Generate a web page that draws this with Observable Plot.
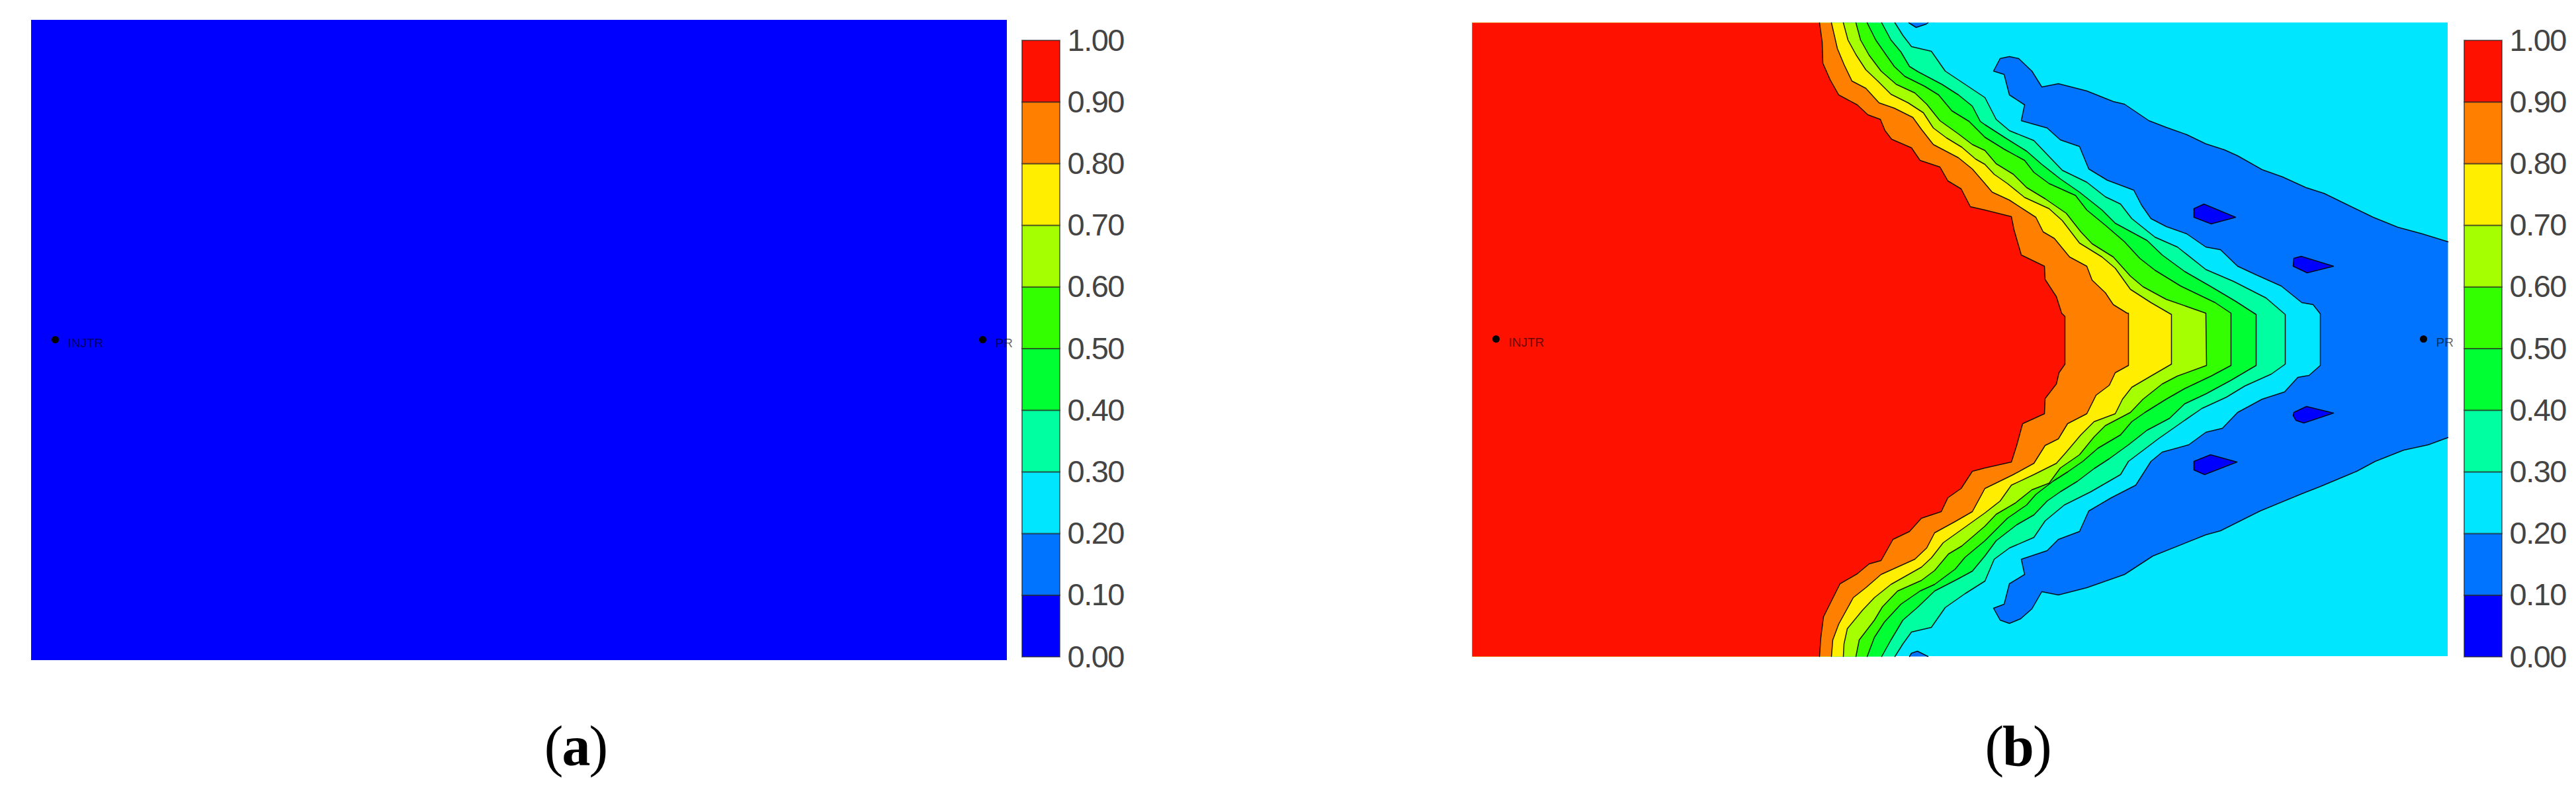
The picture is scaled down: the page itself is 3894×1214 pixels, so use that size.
<!DOCTYPE html>
<html>
<head>
<meta charset="utf-8">
<script src="https://cdn.jsdelivr.net/npm/d3@7"></script>
<script src="https://cdn.jsdelivr.net/npm/@observablehq/plot@0.6"></script>
<style>
html,body{margin:0;padding:0;background:#fff;width:3894px;height:1214px;overflow:hidden}
.box{position:absolute}
.box svg{max-width:none;display:block}
.cap{position:absolute;font-family:"Liberation Serif",serif;font-size:86px;letter-spacing:-2px;line-height:100px;color:#000;transform:translateX(-50%)}
</style>
</head>
<body>
<script>
// Field extent of each map
const fieldX = [0, 1475];
const fieldY = [0, 958];

// Legend
const levels = [0, 0.1, 0.2, 0.3, 0.4, 0.5, 0.6, 0.7, 0.8, 0.9, 1];
const breaks = [0.1, 0.2, 0.3, 0.4, 0.5, 0.6, 0.7, 0.8, 0.9];
const bandColors = ["#0000ff","#0073ff","#00e6ff","#00ffa0","#00ff33","#33ff00","#a6ff00","#ffee00","#ff8000","#ff1100"];

// Wells
const wellNames = ["INJTR", "PR"];
const wellX = [36, 1438];
const wellY = [478, 478];

// Iso-lines of map (b)
const contour90 = [[525,0],[529,29],[530,61],[541,86],[554,109],[582,124],[598,139],[617,146],[624,163],[634,176],[664,189],[677,208],[707,218],[719,239],[739,251],[753,278],[775,283],[815,293],[819,313],[830,351],[865,368],[866,388],[883,414],[891,439],[896,444],[896,516],[887,529],[883,546],[866,568],[865,591],[832,606],[823,639],[815,664],[775,673],[756,678],[739,704],[719,718],[709,739],[679,749],[661,769],[636,781],[618,813],[600,818],[582,833],[556,848],[531,898],[527,929],[525,958]];
const contour80 = [[543,0],[552,39],[562,63],[574,88],[595,99],[615,121],[638,129],[666,143],[679,161],[697,184],[735,204],[756,221],[775,243],[786,256],[812,268],[852,294],[863,316],[880,326],[903,354],[929,368],[937,389],[957,408],[969,426],[990,439],[992,439],[992,518],[972,529],[963,548],[943,563],[929,591],[900,606],[886,629],[866,639],[849,666],[818,683],[775,704],[756,739],[730,754],[699,771],[687,794],[669,811],[618,834],[595,854],[576,869],[554,909],[545,933],[543,958]];
const contour70 = [[561,0],[568,26],[580,48],[595,71],[613,88],[633,108],[659,121],[682,136],[697,159],[717,174],[740,188],[761,206],[775,214],[789,229],[809,243],[835,264],[872,281],[892,299],[918,333],[952,354],[972,371],[995,403],[1026,423],[1057,441],[1057,516],[1026,534],[997,551],[983,569],[972,591],[940,603],[920,623],[898,649],[883,666],[849,683],[815,699],[798,723],[775,741],[740,766],[712,786],[694,809],[679,823],[633,849],[608,869],[590,888],[567,916],[562,939],[561,958]];
const contour60 = [[580,0],[587,26],[600,49],[618,73],[641,93],[669,106],[687,123],[707,148],[735,168],[756,184],[775,193],[792,213],[818,229],[838,249],[866,266],[898,288],[920,316],[937,334],[969,354],[995,383],[1014,399],[1049,418],[1109,439],[1110,518],[1066,534],[1043,546],[1014,569],[995,589],[957,609],[940,626],[918,653],[889,673],[872,696],[846,706],[821,726],[792,743],[775,761],[740,791],[720,803],[699,828],[679,843],[643,859],[620,883],[608,903],[585,933],[580,958]];
const contour50 = [[597,0],[610,26],[626,49],[638,66],[654,81],[684,96],[705,109],[725,133],[751,149],[775,173],[804,191],[835,208],[849,226],[872,243],[912,261],[929,283],[957,306],[986,331],[1009,356],[1032,374],[1071,398],[1123,423],[1147,439],[1147,518],[1117,534],[1077,553],[1049,569],[1017,589],[997,603],[980,623],[946,643],[923,663],[900,679],[878,693],[852,713],[838,729],[809,749],[775,783],[745,808],[730,826],[699,849],[677,859],[648,879],[623,906],[608,929],[597,958]];
const contour40 = [[619,0],[633,26],[648,44],[661,66],[674,74],[710,93],[735,109],[756,126],[768,149],[775,154],[806,174],[838,194],[861,214],[889,236],[918,256],[952,283],[972,303],[1020,329],[1043,351],[1077,376],[1117,399],[1154,421],[1185,441],[1185,518],[1146,541],[1109,561],[1077,576],[1054,598],[1020,616],[992,638],[963,659],[940,674],[915,693],[889,709],[869,723],[849,744],[823,759],[792,783],[775,806],[756,829],[730,843],[699,859],[674,883],[651,903],[633,933],[619,958]];
const contour30 = [[639,0],[651,19],[664,36],[694,43],[715,73],[745,93],[775,113],[792,146],[812,163],[849,178],[869,199],[892,223],[929,241],[957,263],[980,274],[997,296],[1032,324],[1066,339],[1109,373],[1151,391],[1200,416],[1229,441],[1229,516],[1208,531],[1168,549],[1140,566],[1103,583],[1074,603],[1037,629],[992,663],[980,683],[935,709],[895,729],[866,753],[849,778],[812,794],[789,811],[775,844],[745,863],[715,884],[694,914],[664,921],[651,939],[639,958]];
const contour20 = [[1475,331],[1436,319],[1399,309],[1362,294],[1331,279],[1288,258],[1260,249],[1225,233],[1194,222],[1157,201],[1137,192],[1109,183],[1080,169],[1049,158],[1023,148],[986,123],[969,119],[929,103],[886,92],[861,97],[846,73],[826,54],[812,51],[798,54],[788,73],[804,78],[812,109],[835,124],[830,148],[869,159],[889,177],[918,187],[932,221],[960,238],[1000,253],[1012,276],[1026,296],[1049,308],[1080,319],[1109,339],[1131,343],[1157,368],[1185,381],[1223,398],[1254,423],[1271,426],[1282,440],[1282,518],[1265,533],[1248,536],[1228,558],[1194,569],[1157,589],[1134,613],[1109,619],[1083,638],[1043,649],[1026,663],[1003,699],[966,718],[932,738],[918,769],[886,781],[869,798],[830,811],[835,834],[812,848],[804,879],[788,885],[798,903],[812,908],[829,901],[846,886],[861,860],[886,865],[929,854],[986,834],[1029,806],[1109,774],[1131,768],[1191,738],[1254,712],[1282,701],[1337,678],[1365,663],[1408,646],[1445,638],[1475,627]];
const patchTop = [[660,0],[671,7],[686,2],[689,0]];
const patchBottom = [[661,958],[664,953],[673,950],[687,957],[689,958]];
const island1 = [[1091,281],[1106,274],[1154,294],[1117,304],[1091,294],[1091,281]];
const island2 = [[1242,356],[1253,353],[1302,368],[1262,378],[1241,368],[1242,356]];
const island3 = [[1242,589],[1261,580],[1302,590],[1257,605],[1245,601],[1241,594],[1242,589]];
const island4 = [[1091,663],[1116,653],[1156,664],[1107,683],[1091,676],[1091,663]];

const colorScale = {type: "threshold", domain: breaks, range: bandColors};
const rows = (pts, band) => pts.map(([x, y]) => ({x, y, band}));
const field = band => [{x1: fieldX[0], x2: fieldX[1], y1: fieldY[0], y2: fieldY[1], band}];
const fillOf = (pts, band) => Plot.line(rows(pts, band), {x: "x", y: "y", fill: "band", stroke: "none"});
const lineOf = pts => Plot.line(rows(pts, 0), {x: "x", y: "y", stroke: "#000", strokeWidth: 1.5, strokeOpacity: 0.9});
const west = [[fieldX[0], fieldY[1]], [fieldX[0], fieldY[0]]];

function wells() {
  const data = wellNames.map((name, i) => ({name, x: wellX[i], y: wellY[i]}));
  return [
    Plot.dot(data, {x: "x", y: "y", r: 5.5, fill: "#000", stroke: "none"}),
    Plot.text(data, {x: "x", y: "y", text: "name", dx: 19, dy: 5, textAnchor: "start", fill: "#000", fillOpacity: 0.6,
      fontSize: 19, fontFamily: "Liberation Sans"})
  ];
}

function map(height, marks) {
  return Plot.plot({
    width: fieldX[1], height, margin: 0,
    x: {domain: fieldX, axis: null},
    y: {domain: [fieldY[1], fieldY[0]], axis: null},
    color: colorScale,
    style: {overflow: "visible", background: "transparent"},
    marks: [...marks, ...wells()]
  });
}

function legend() {
  const cells = bandColors.map((c, i) => ({y1: levels[i], y2: levels[i + 1], band: (levels[i] + levels[i + 1]) / 2}));
  return Plot.plot({
    width: 340, height: 1012, marginTop: 40, marginBottom: 40, marginLeft: 0, marginRight: 283,
    x: {domain: [0, 1], axis: null},
    y: {domain: [0, 1]},
    color: colorScale,
    style: {overflow: "visible", background: "transparent", fontFamily: "Liberation Sans", fontSize: "47px", letterSpacing: "-1.5px", color: "#444"},
    marks: [
      Plot.rect(cells, {x1: 0, x2: 1, y1: "y1", y2: "y2", fill: "band", stroke: "#222", strokeOpacity: 0.6, strokeWidth: 2}),
      Plot.axisY({anchor: "right", ticks: levels, tickSize: 0, tickPadding: 11, tickFormat: d3.format(".2f"), fill: "#444", label: null})
    ]
  });
}

const isoStack = [[contour30, 0.35], [contour40, 0.45], [contour50, 0.55], [contour60, 0.65], [contour70, 0.75], [contour80, 0.85], [contour90, 0.95]];
const islands = [island1, island2, island3, island4];

const mapA = map(968, [Plot.rect(field(0.05), {x1: "x1", x2: "x2", y1: "y1", y2: "y2", fill: "band"})]);
const mapB = map(958, [
  Plot.rect(field(0.25), {x1: "x1", x2: "x2", y1: "y1", y2: "y2", fill: "band"}),
  fillOf(contour20, 0.15),
  fillOf(patchTop, 0.15),
  fillOf(patchBottom, 0.15),
  ...isoStack.map(([pts, band]) => fillOf([...pts, ...west], band)),
  ...islands.map(pts => fillOf(pts, 0.05)),
  lineOf(contour20), lineOf(patchTop), lineOf(patchBottom),
  ...isoStack.map(([pts]) => lineOf(pts)),
  ...islands.map(lineOf)
]);

function place(node, left, top) {
  const d = document.createElement("div");
  d.className = "box";
  d.style.left = left + "px";
  d.style.top = top + "px";
  d.appendChild(node);
  document.body.appendChild(d);
}
function caption(letter, center) {
  const d = document.createElement("div");
  d.className = "cap";
  d.style.left = center + "px";
  d.style.top = "1078px";
  d.append("(");
  const b = document.createElement("b");
  b.textContent = letter;
  d.append(b, ")");
  document.body.appendChild(d);
}
place(mapA, 47, 30);
place(legend(), 1545, 21);
place(mapB, 2225, 34);
place(legend(), 3725, 21);
caption("a", 870);
caption("b", 3050);
</script>
</body>
</html>
